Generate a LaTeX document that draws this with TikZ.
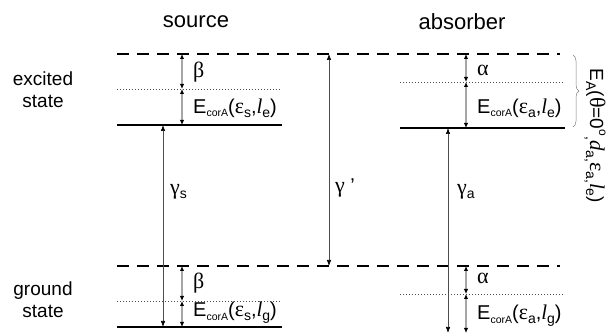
\documentclass[tikz,border=0pt]{standalone}
\usepackage{fontspec}
\setmainfont{Liberation Sans}
\newfontfamily\grk{Liberation Serif}
\usetikzlibrary{arrows.meta,decorations.pathreplacing}
\newcommand\gk[1]{{\fontsize{22}{22}\selectfont\grk #1}}
\newcommand\gi[1]{{\fontsize{21}{22}\selectfont\grk\itshape #1}}
\newcommand\sbs[1]{\raisebox{-0.4ex}{\fontsize{14}{14}\selectfont #1}}
\newcommand\tsb[1]{\raisebox{-0.35ex}{\fontsize{10.5}{10.5}\selectfont #1}}
\newcommand\Ecor[2]{E\tsb{corA}(\gk{ε}\sbs{#1},\gi{l}\sbs{#2})}
\begin{document}
\begin{tikzpicture}[x=1pt,y=-1pt,
  title/.style={font=\fontsize{22}{26}\selectfont},
  statelab/.style={font=\fontsize{19}{22}\selectfont,align=center},
  lab/.style={font=\fontsize{20}{22}\selectfont,anchor=west,inner sep=0pt},
  level/.style={line width=1.3pt},
  virt/.style={line width=1.3pt,dash pattern=on 12pt off 8pt},
  dotl/.style={line width=0.8pt,dash pattern=on 1pt off 2pt,black!70},
  smallarr/.style={line width=1.5pt,black!35,{Latex[length=5pt,width=4.5pt,color=black]}-{Latex[length=5pt,width=4.5pt,color=black]}},
  mainarr/.style={line width=0.6pt,black!70,{Latex[length=6pt,width=4.5pt,color=black]}-{Latex[length=6pt,width=4.5pt,color=black]}}]
\useasboundingbox (0,0) rectangle (614,336);
% titles
\node[title] (tsrc) at (196,22) {source};
\node[title] (tabs) at (462,22) {absorber};
\node[statelab] (exc) at (43,90) {excited\\state};
\node[statelab] (gnd) at (43,300) {ground\\state};
% levels
\draw[virt] (117,54) -- (560,54);
\draw[virt] (117,266) -- (560,266);
\draw[dotl] (117,89) -- (280,89);
\draw[level] (117,125) -- (282,125);
\draw[dotl] (117,301) -- (280,301);
\draw[level] (117,327) -- (282,327);
\draw[dotl] (400,82) -- (563,82);
\draw[level] (400,128) -- (565,128);
\draw[dotl] (400,294) -- (563,294);
% coordinates
\coordinate (s1) at (182,54); \coordinate (s2) at (182,89); \coordinate (s3) at (182,125);
\coordinate (s4) at (182,266); \coordinate (s5) at (182,301); \coordinate (s6) at (182,327);
\coordinate (a1) at (466,54); \coordinate (a2) at (466,82); \coordinate (a3) at (466,128);
\coordinate (a4) at (466,266); \coordinate (a5) at (466,294); \coordinate (a6) at (466,333);
\coordinate (gs1) at (163,125); \coordinate (gs2) at (163,327);
\coordinate (gp1) at (329,54); \coordinate (gp2) at (329,266);
\coordinate (ga1) at (448,128); \coordinate (ga2) at (448,333);
% small arrows
\draw[smallarr] (s1) -- (s2);
\draw[smallarr] (s2) -- (s3);
\draw[smallarr] (s4) -- (s5);
\draw[smallarr] (s5) -- (s6);
\draw[smallarr] (a1) -- (a2);
\draw[smallarr] (a2) -- (a3);
\draw[smallarr] (a4) -- (a5);
\draw[smallarr] (a5) -- (a6);
% main arrows
\draw[mainarr] (gs1) -- (gs2);
\draw[mainarr] (gp1) -- (gp2);
\draw[mainarr] (ga1) -- (ga2);
% labels
\node[lab] (lb1) at (193,72) {\gk{β}};
\node[lab] (le1) at (193,108) {\Ecor{s}{e}};
\node[lab] (lb2) at (193,283) {\gk{β}};
\node[lab] (le2) at (193,313) {\Ecor{s}{g}};
\node[lab] (la1) at (477,70) {\gk{α}};
\node[lab] (le3) at (477,108) {\Ecor{a}{e}};
\node[lab] (la2) at (477,278) {\gk{α}};
\node[lab] (le4) at (477,316) {\Ecor{a}{g}};
\node[lab] (lgs) at (170,192) {\gk{γ}\sbs{s}};
\node[lab] (lgp) at (335,188) {\gk{γ} '};
\node[lab] (lga) at (457,192) {\gk{γ}\sbs{a}};
% brace
\draw[black!50,line width=0.5pt,decorate,decoration={brace,amplitude=6pt}] (573,55) -- (573,127) coordinate[pos=0.5] (bm);
\node[font=\fontsize{19}{22}\selectfont,rotate=-90,inner sep=0pt] (EA) at (595,136)
  {E\sbs{A}(\gk{θ}=0\raisebox{0.9ex}{\fontsize{12}{12}\selectfont o}\sbs{,}\gi{d}\sbs{a,}\gk{ε}\sbs{a,}\gi{l}\sbs{e})};
\end{tikzpicture}
\end{document}
